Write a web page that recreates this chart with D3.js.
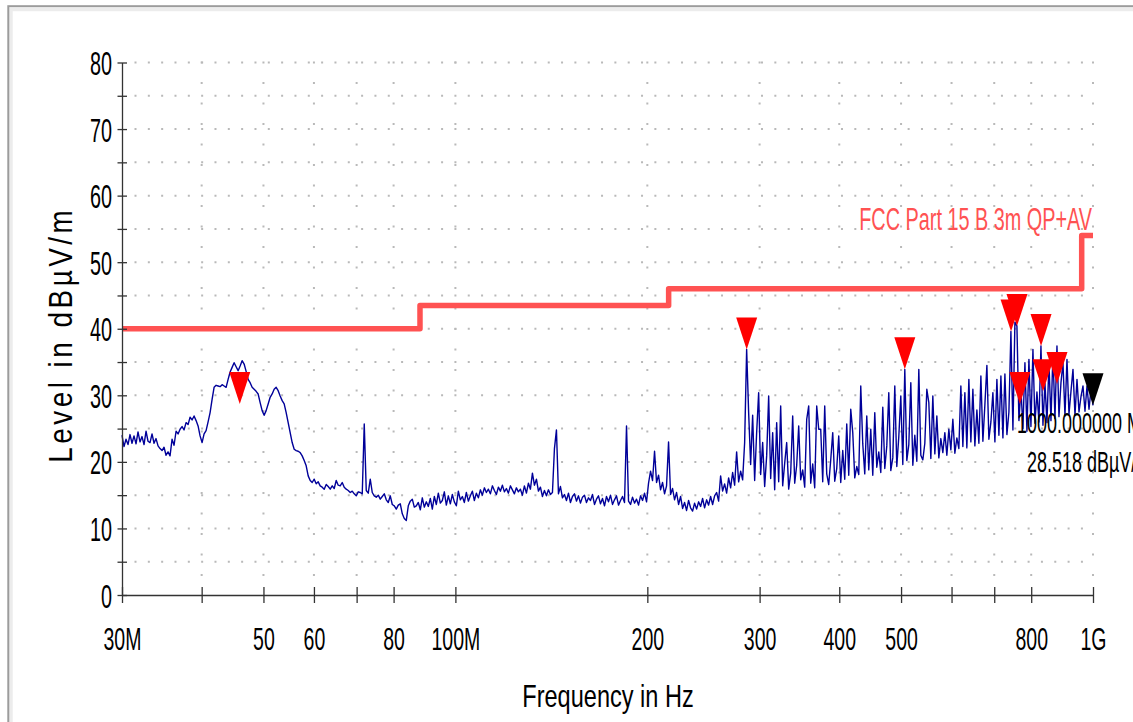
<!DOCTYPE html>
<html>
<head>
<meta charset="utf-8">
<script src="https://cdn.jsdelivr.net/npm/d3@7"></script>
<style>
  body { margin: 0; background: #fff; }
  svg { display: block; }
  text { font-family: "Liberation Sans", Arial, sans-serif; }
</style>
</head>
<body>
<svg id="chart" width="1133" height="722"></svg>
<script>
// Receiver sweep: 30 MHz .. 1 GHz, logarithmic point spacing, levels in dBµV/m
const sweepStartMHz = 30;
const sweepStopMHz = 1000;
const traceLevels = [
  24.0, 22.3, 23.4, 22.6, 24.1, 22.8, 23.9, 22.7, 24.5, 23.0,
  23.8, 22.6, 24.6, 23.1, 22.9, 24.2, 22.8, 23.5, 22.4, 22.0,
  21.7, 22.2, 21.0, 21.5, 20.9, 23.4, 22.5, 24.6, 24.2, 24.9,
  25.3, 24.8, 25.9, 25.6, 26.7, 26.3, 26.9, 26.2, 25.4, 23.9,
  22.9, 24.2, 24.7, 26.0, 27.4, 29.4, 31.2, 31.5, 31.4, 31.3,
  31.6, 31.4, 31.2, 32.4, 33.5, 34.2, 34.9, 34.3, 33.7, 34.4,
  35.2, 34.7, 33.6, 32.4, 31.9, 31.2, 30.9, 30.6, 30.2, 28.9,
  27.7, 27.0, 27.7, 28.7, 29.7, 30.2, 30.9, 31.2, 30.7, 29.9,
  29.2, 28.7, 27.4, 25.9, 24.4, 22.9, 21.9, 21.7, 21.6, 21.4,
  20.9, 20.2, 19.4, 17.9, 17.2, 16.9, 17.4, 16.7, 17.0, 16.4,
  16.2, 15.9, 16.6, 16.3, 15.9, 16.4, 16.0, 17.2, 16.5, 16.4,
  16.9, 16.2, 15.9, 15.7, 15.4, 15.6, 15.2, 14.9, 15.5, 15.4,
  15.2, 25.7, 15.7, 15.3, 17.4, 15.4, 14.9, 14.7, 15.0, 14.4,
  14.8, 15.2, 14.3, 13.9, 14.9, 13.6, 13.4, 12.9, 13.5, 13.7,
  12.2, 11.5, 11.2, 13.4, 14.1, 14.4, 13.2, 13.4, 13.9, 12.8,
  14.6, 13.2, 14.0, 13.3, 14.5, 12.9, 14.8, 13.6, 15.3, 13.8,
  14.2, 15.5, 13.5, 14.9, 13.7, 15.1, 14.0, 13.4, 15.6, 14.3,
  14.8, 13.9, 15.4, 14.1, 14.9, 15.6, 14.2, 15.3, 14.6, 15.8,
  15.0, 16.1, 15.4, 15.9, 15.2, 16.4, 15.7, 15.1, 16.2, 15.6,
  16.5, 15.5, 16.0, 15.3, 16.4, 15.8, 15.2, 16.1, 15.5, 15.9,
  15.0, 16.4, 15.3, 16.8, 15.9, 18.3, 16.5, 17.4, 15.6, 16.2,
  14.8, 15.7, 14.9, 15.8, 15.1, 15.4, 22.0, 24.8, 15.2, 16.3,
  14.6, 15.1, 14.2, 15.3, 13.9, 14.8, 15.2, 14.1, 14.9, 13.8,
  14.7, 15.0, 13.9, 14.6, 14.2, 15.1, 13.6, 14.4, 14.9, 13.7,
  14.5, 13.4, 14.8, 14.0, 15.0, 13.6, 14.3, 14.9, 13.5, 14.2,
  14.8, 13.9, 25.4, 14.1, 13.6, 14.7, 13.8, 14.4, 13.5, 14.9,
  14.2, 15.3, 14.0, 16.8, 18.6, 17.2, 21.6, 16.9, 18.0, 15.8,
  16.9, 15.2, 16.4, 23.0, 15.1, 16.0, 14.3, 15.4, 13.6, 14.8,
  13.0, 13.9, 12.7, 14.2, 13.1, 12.6, 13.8, 12.9, 14.0, 13.3,
  14.5, 13.1, 14.3, 13.5, 14.8, 13.6, 14.9, 15.4, 14.1, 17.9,
  15.6, 16.7, 15.3, 17.6, 16.1, 18.4, 16.5, 21.5, 17.0, 18.6,
  17.3, 22.9, 36.9, 27.4, 19.6, 27.0, 17.2, 24.4, 30.4, 18.1,
  22.9, 16.3, 20.9, 29.9, 17.5, 24.4, 15.8, 25.9, 17.0, 28.4,
  16.4, 19.8, 22.9, 15.9, 18.3, 26.9, 16.8, 19.5, 25.4, 17.3,
  18.8, 16.2, 26.4, 28.4, 16.8, 19.7, 16.1, 28.4, 24.9, 24.9,
  17.0, 28.4, 18.2, 16.6, 20.3, 24.4, 17.1, 19.0, 23.9, 16.9,
  21.7, 17.4, 25.7, 18.0, 27.9, 24.4, 17.6, 19.3, 18.1, 31.4,
  22.7, 18.2, 26.9, 18.8, 24.9, 18.0, 27.4, 19.2, 21.5, 18.4,
  28.2, 19.0, 22.4, 30.4, 18.7, 20.6, 31.4, 19.3, 23.8, 29.9,
  19.6, 33.9, 20.2, 22.6, 31.9, 19.5, 24.0, 20.1, 33.9, 21.0,
  20.3, 22.8, 30.9, 28.9, 20.5, 29.9, 21.2, 26.9, 20.6, 23.5,
  21.4, 24.4, 21.0, 24.9, 21.8, 26.4, 21.3, 23.6, 22.0, 31.4,
  22.3, 30.4, 22.1, 32.4, 23.0, 30.9, 22.4, 27.8, 22.8, 32.9,
  23.1, 28.6, 34.5, 23.4, 26.0, 30.4, 23.0, 32.4, 24.0, 32.9,
  23.6, 33.2, 24.1, 27.5, 39.6, 24.8, 41.0, 40.4, 26.2, 31.0,
  25.0, 34.9, 24.6, 35.4, 25.3, 36.9, 25.8, 30.5, 26.0, 37.4,
  25.5, 31.8, 25.9, 34.9, 26.2, 36.4, 26.5, 37.4, 26.8, 31.9,
  34.9, 26.9, 35.4, 27.2, 30.6, 33.9, 27.0, 32.4, 27.5, 29.8,
  31.4, 27.6, 31.4, 27.9, 30.9, 28.5
];

// FCC Part 15 B, 3 m limit (band edges in MHz, level per band)
const limitEdgesMHz = [30, 88, 216, 960, 1000];
const limitLevels = [40, 43.5, 46, 54];
const limitName = "FCC Part 15 B 3m QP+AV";

// Final measurement markers
const markerFreqMHz = [45.9, 286.3, 506.8, 743.8, 759.9, 768.0, 828.9, 835.0, 878.0];
const markerLevels  = [28.7, 36.9, 33.9, 39.6, 40.4, 28.7, 37.4, 30.6, 31.7];
const activeMarkerFreqMHz = 1000;
const activeMarkerLevel = 28.518;

// Axis ticks
const xTickValues = [30, 40, 50, 60, 70, 80, 100, 200, 300, 400, 500, 600, 700, 800, 1000];
const xTickLabels = { 30: "30M", 50: "50", 60: "60", 80: "80", 100: "100M",
                      200: "200", 300: "300", 400: "400", 500: "500", 800: "800", 1000: "1G" };
const yTickValues = d3.range(0, 81, 5);
const yLabelStep = 10;

const svg = d3.select("#chart");

// panel frame
svg.append("rect").attr("x", 11).attr("y", 9.5).attr("width", 1200).attr("height", 800)
  .attr("fill", "none").attr("stroke", "#ececec").attr("stroke-width", 3.4);
svg.append("rect").attr("x", 8.3).attr("y", 6.2).attr("width", 1200).attr("height", 800)
  .attr("fill", "none").attr("stroke", "#9c9c9c").attr("stroke-width", 2);

const x = d3.scaleLog().domain([sweepStartMHz, sweepStopMHz]).range([122, 1093]);
const y = d3.scaleLinear().domain([0, 80]).range([595, 62.5]);

// dotted grid
const grid = svg.append("g").attr("stroke", "#b9b9b9").attr("stroke-width", 2);
grid.selectAll("line.h").data(yTickValues.filter(v => v > 0)).join("line")
  .attr("x1", x(30) + 12.5).attr("x2", x(1000) + 1)
  .attr("y1", d => y(d)).attr("y2", d => y(d))
  .attr("stroke-dasharray", "2 11.33");
grid.selectAll("line.v").data(xTickValues.filter(v => v > 30)).join("line")
  .attr("x1", d => x(d)).attr("x2", d => x(d))
  .attr("y1", y(80) - 1).attr("y2", y(0) - 18)
  .attr("stroke-dasharray", "2 18.5");

// measured trace
const n = traceLevels.length;
const tracePoints = traceLevels.map((v, i) =>
  [sweepStartMHz * Math.pow(sweepStopMHz / sweepStartMHz, i / (n - 1)), v]);
svg.append("path").datum(tracePoints)
  .attr("fill", "none").attr("stroke", "#000099").attr("stroke-width", 1.4)
  .attr("stroke-linejoin", "round")
  .attr("d", d3.line().x(d => x(d[0])).y(d => y(d[1])));

// limit line
const limitPoints = limitLevels.map((v, i) => [limitEdgesMHz[i], v]);
limitPoints.push([limitEdgesMHz[limitEdgesMHz.length - 1], limitLevels[limitLevels.length - 1]]);
svg.append("path").datum(limitPoints)
  .attr("fill", "none").attr("stroke", "#ff5252").attr("stroke-width", 5.5)
  .attr("stroke-linejoin", "round")
  .attr("d", d3.line().curve(d3.curveStepAfter).x(d => x(d[0])).y(d => y(d[1])));

// condensed text helper
function label(parent, px, py, str, size, sx, anchor, fill) {
  return parent.append("text")
    .attr("transform", `translate(${px},${py}) scale(${sx},1)`)
    .attr("text-anchor", anchor).attr("font-size", size).attr("fill", fill)
    .text(str);
}

label(svg, 1092, 230, limitName, 31, 0.64, "end", "#ff5252");

// markers
const tri = (cx, cy) => `M${cx - 10.5},${cy - 32}L${cx + 10.5},${cy - 32}L${cx},${cy}Z`;
svg.append("g").selectAll("path").data(markerFreqMHz).join("path")
  .attr("fill", "#ff0000")
  .attr("d", (f, i) => tri(x(f), y(markerLevels[i])));
svg.append("path").attr("fill", "#000")
  .attr("d", tri(x(activeMarkerFreqMHz), y(activeMarkerLevel)));

// axes
const xAxis = svg.append("g").attr("transform", `translate(0,${y(0)})`)
  .call(d3.axisBottom(x).tickValues(xTickValues).tickSize(8).tickSizeOuter(0)
    .tickFormat(d => xTickLabels[d] || ""));
xAxis.select(".domain").attr("stroke", "#333").attr("stroke-width", 1.3);
xAxis.selectAll(".tick line").attr("y1", -8).attr("y2", 8).attr("stroke", "#333").attr("stroke-width", 1.3);
xAxis.selectAll(".tick text")
  .attr("y", null).attr("dy", null)
  .attr("transform", "translate(0,55) scale(0.63,1)")
  .attr("font-size", 31).attr("fill", "#000")
  .attr("font-family", '"Liberation Sans", Arial, sans-serif');

const yAxis = svg.append("g").attr("transform", `translate(${x(30)},0)`)
  .call(d3.axisLeft(y).tickValues(yTickValues).tickSize(5).tickSizeOuter(0)
    .tickFormat(d => d % yLabelStep === 0 ? d : ""));
yAxis.select(".domain").attr("stroke", "#333").attr("stroke-width", 1.3);
yAxis.selectAll(".tick line").attr("x1", -4.5).attr("x2", 5).attr("stroke", "#333").attr("stroke-width", 1.3);
yAxis.selectAll(".tick text")
  .attr("x", null).attr("dy", null)
  .attr("transform", "translate(-10,12) scale(0.6,1)")
  .attr("font-size", 33).attr("fill", "#000")
  .attr("font-family", '"Liberation Sans", Arial, sans-serif');

// axis titles
label(svg, 608, 707, "Frequency in Hz", 31, 0.76, "middle", "#000");
svg.append("text")
  .attr("transform", "translate(72,336.5) rotate(-90) scale(0.82,1)")
  .attr("text-anchor", "middle").attr("font-size", 34).attr("fill", "#000")
  .attr("textLength", 308).attr("lengthAdjust", "spacing")
  .text("Level in dBµV/m");

// active marker readout
label(svg, 1017, 433, `${activeMarkerFreqMHz.toFixed(6)} MHz`, 29, 0.62, "start", "#000");
label(svg, 1027, 472, `${activeMarkerLevel.toFixed(3)} dBµV/m`, 29, 0.62, "start", "#000");
</script>
</body>
</html>
